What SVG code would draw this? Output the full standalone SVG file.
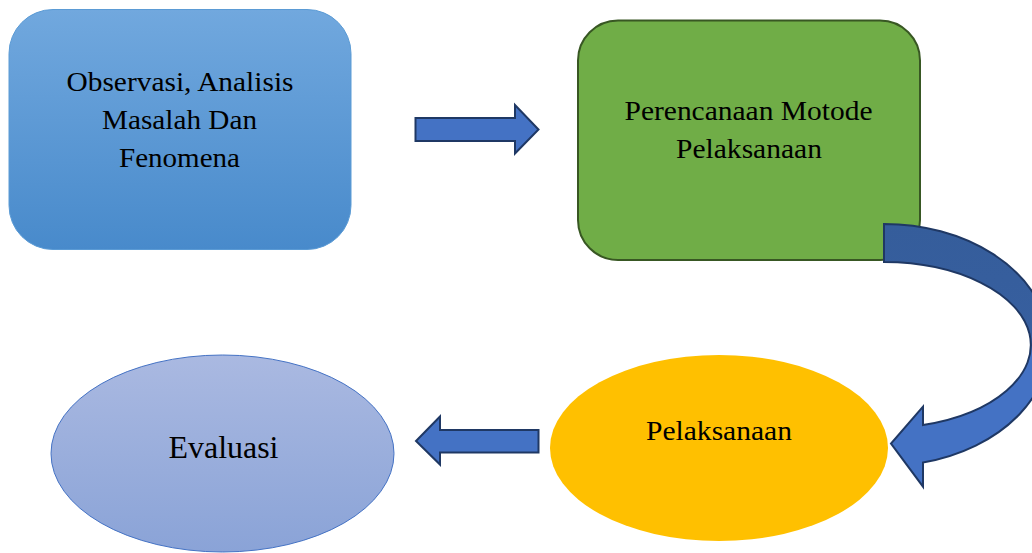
<svg xmlns="http://www.w3.org/2000/svg" width="1032" height="553" viewBox="0 0 1032 553">
<defs>
<linearGradient id="gBlue" x1="0" y1="0" x2="0" y2="1">
<stop offset="0" stop-color="#71a8de"/>
<stop offset="1" stop-color="#488acb"/>
</linearGradient>
<linearGradient id="gEval" x1="0" y1="0" x2="0" y2="1">
<stop offset="0" stop-color="#aab9e1"/>
<stop offset="1" stop-color="#8aa3d7"/>
</linearGradient>
<linearGradient id="gCurve" gradientUnits="userSpaceOnUse" x1="0" y1="224" x2="0" y2="487">
<stop offset="0" stop-color="#355d9b"/>
<stop offset="0.42" stop-color="#375f9f"/>
<stop offset="0.5" stop-color="#4472c4"/>
<stop offset="1" stop-color="#4472c4"/>
</linearGradient>
<style>
.lbl{font-family:"Liberation Serif","DejaVu Serif",serif;font-size:27px;fill:#000;text-anchor:middle}
.big{font-size:31px}
.arrow{fill:#4472c4;stroke:#1f3864;stroke-width:2;stroke-linejoin:miter}
</style>
</defs>
<g id="observasi">
<rect x="9" y="9.5" width="342" height="240" rx="44" ry="44" fill="url(#gBlue)" stroke="#5b9bd5" stroke-width="1"/>
<text class="lbl" x="180" y="90.5" textLength="227" lengthAdjust="spacingAndGlyphs">Observasi, Analisis</text>
<text class="lbl" x="179.5" y="128.5" textLength="155" lengthAdjust="spacingAndGlyphs">Masalah Dan</text>
<text class="lbl" x="179.5" y="166.5" textLength="121" lengthAdjust="spacingAndGlyphs">Fenomena</text>
</g>
<g id="perencanaan">
<rect x="578" y="20.5" width="342" height="239.5" rx="40" ry="40" fill="#70ad47" stroke="#385723" stroke-width="2"/>
<text class="lbl" x="748.5" y="119.5" textLength="248" lengthAdjust="spacingAndGlyphs">Perencanaan Motode</text>
<text class="lbl" x="749" y="157.5" textLength="146" lengthAdjust="spacingAndGlyphs">Pelaksanaan</text>
</g>
<g id="pelaksanaan">
<ellipse cx="719" cy="448" rx="169" ry="93" fill="#ffc000"/>
<text class="lbl" x="719" y="439.5" textLength="146" lengthAdjust="spacingAndGlyphs">Pelaksanaan</text>
</g>
<g id="evaluasi">
<ellipse cx="222.5" cy="453.5" rx="171.5" ry="98.5" fill="url(#gEval)" stroke="#4472c4" stroke-width="1"/>
<text class="lbl big" x="223.5" y="457.5" textLength="110" lengthAdjust="spacingAndGlyphs">Evaluasi</text>
</g>
<g id="connectors">
<path class="arrow" d="M415.5,118 L515,118 L515,105 L538.5,129.5 L515,153.5 L515,141 L415.5,141 Z"/>
<path class="arrow" d="M884,224 A165,121 0 0 1 923,462.6 L923,486.7 L891,443.5 L923,406.7 L923,425 A147,83 0 0 0 884,262 Z" fill="url(#gCurve)" style="fill:url(#gCurve)"/>
<path class="arrow" d="M538.5,430 L440,430 L440,416.5 L416,441 L440,464.5 L440,452.5 L538.5,452.5 Z"/>
</g>
</svg>
